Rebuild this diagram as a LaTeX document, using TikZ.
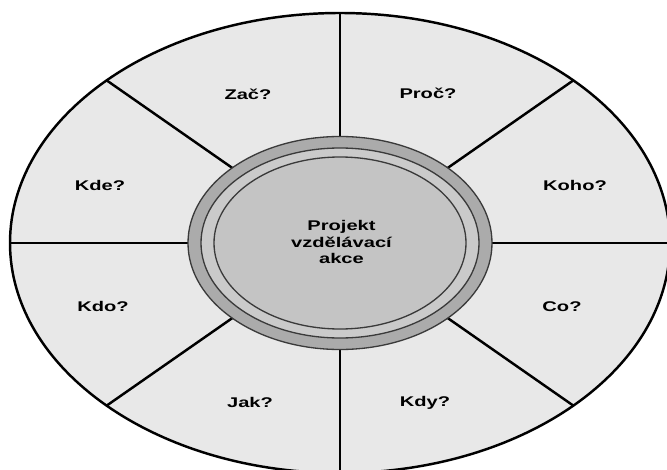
\documentclass[tikz,border=0pt]{standalone}
\usepackage{fontspec}
\setmainfont{Liberation Sans}
\usepackage{xcolor}
\usepackage{tikz}

\definecolor{segfill}{HTML}{E8E8E8}
\definecolor{ringdark}{HTML}{ABABAB}
\definecolor{ringlight}{HTML}{CACACA}
\definecolor{corefill}{HTML}{C4C4C4}
\definecolor{ringline}{HTML}{3A3A3A}

\tikzset{
    question/.style={font=\bfseries\fontsize{8}{9.2}\selectfont, xscale=1.43, align=center, text=black},
    spoke/.style={line width=1.4pt},
    ringedge/.style={draw=ringline, line width=0.75pt},
}

\begin{document}
\begin{tikzpicture}
        \useasboundingbox (-6.8,-4.52) rectangle (6.54,4.86);
        \clip (-6.8,-4.52) rectangle (6.54,4.86);
        \fill[white] (-6.8,-4.52) rectangle (6.54,4.86);

        \draw[fill=segfill, line width=1.4pt] (0,0) ellipse (6.6 and 4.6);

        \draw[spoke] (0,0) -- (0:6.6 and 4.6);
        \draw[spoke] (0,0) -- (45:6.6 and 4.6);
        \draw[spoke] (0,0) -- (90:6.6 and 4.6);
        \draw[spoke] (0,0) -- (135:6.6 and 4.6);
        \draw[spoke] (0,0) -- (180:6.6 and 4.6);
        \draw[spoke] (0,0) -- (225:6.6 and 4.6);
        \draw[spoke] (0,0) -- (270:6.6 and 4.6);
        \draw[spoke] (0,0) -- (315:6.6 and 4.6);

        % hub
        \draw[ringedge, fill=ringdark] (0,0) ellipse (3.04 and 2.13);
        \draw[ringedge, fill=ringlight] (0,0) ellipse (2.78 and 1.9);
        \draw[ringedge, fill=corefill] (0,0) ellipse (2.52 and 1.72);

        \node[question] (projekt) at (0.03,0.02) {Projekt\\vzdělávací\\akce};

        \node[question] (zac) at (-1.84,2.98) {Zač?};
        \node[question] (proc) at (1.76,3.0) {Proč?};
        \node[question] (koho) at (4.7,1.16) {Koho?};
        \node[question] (co) at (4.44,-1.28) {Co?};
        \node[question] (kdy) at (1.7,-3.2) {Kdy?};
        \node[question] (jak) at (-1.8,-3.18) {Jak?};
        \node[question] (kdo) at (-4.74,-1.26) {Kdo?};
        \node[question] (kde) at (-4.8,1.16) {Kde?};
    \end{tikzpicture}
\end{document}
